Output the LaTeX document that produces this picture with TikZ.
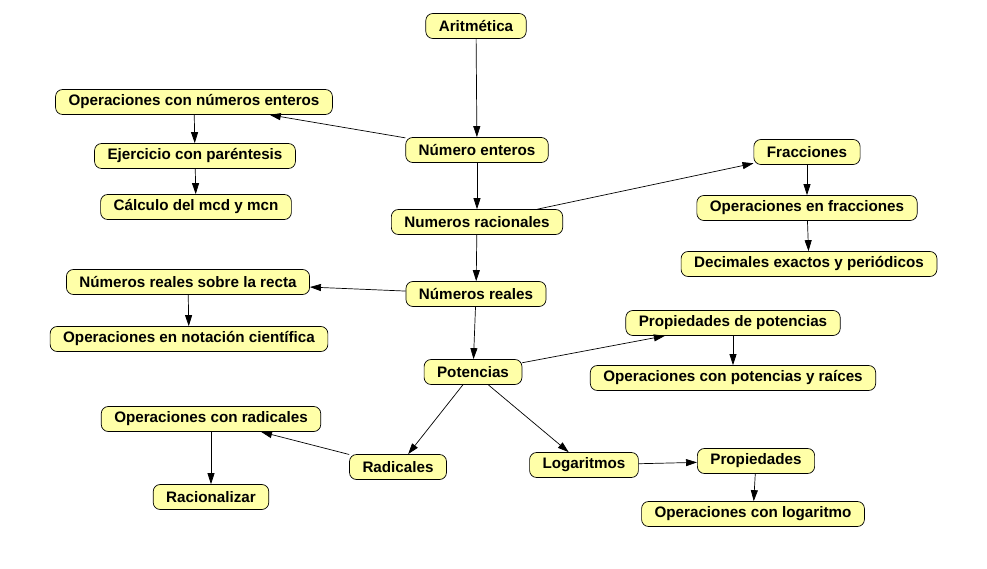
\documentclass[tikz,border=0pt]{standalone}
\usepackage{fontspec}
\setmainfont{Liberation Sans}
\usepackage{tikz}
\usetikzlibrary{arrows.meta, positioning}

\definecolor{conceptfill}{RGB}{255,255,168}

\begin{document}
\begin{tikzpicture}[x=1pt, y=-1pt, -{Triangle[length=11pt,width=7pt]}, line width=0.7pt,
  concept/.style={draw, fill=conceptfill, rounded corners=7pt, inner xsep=13pt, inner ysep=0pt,
    minimum height=25pt, font=\fontsize{15.2}{17}\selectfont\bfseries}]
        \useasboundingbox (0,0) rectangle (987,569);
				\node[concept] (arit)  at (476,26)  {Aritmética};
				\node[concept] (ent)   at (477,150) {Número enteros};
				\node[concept] (opent) at (194,102) {Operaciones con números enteros};
				\node[concept] (ejer)  at (195,156) {Ejercicio con paréntesis};
				\node[concept] (mcd)   at (196,207) {Cálculo del mcd y mcn};
				\node[concept] (rac)   at (477,222) {Numeros racionales};
				\node[concept] (frac)  at (807,152) {Fracciones};
				\node[concept] (opfr)  at (807,208) {Operaciones en fracciones};
				\node[concept] (dec)   at (809,264) {Decimales exactos y periódicos};
				\node[concept] (real)  at (476,294) {Números reales};
				\node[concept] (recta) at (188,282) {Números reales sobre la recta};
				\node[concept] (cient) at (189,339) {Operaciones en notación científica};
				\node[concept] (pot)   at (473,372) {Potencias};
				\node[concept] (prpot) at (733,323) {Propiedades de potencias};
				\node[concept] (oppot) at (733,378) {Operaciones con potencias y raíces};
				\node[concept] (oprad) at (211,419) {Operaciones con radicales};
				\node[concept] (racz)  at (211,497) {Racionalizar};
				\node[concept] (rad)   at (398,467) {Radicales};
				\node[concept] (log)   at (584,465) {Logaritmos};
				\node[concept] (prop)  at (756,461) {Propiedades};
				\node[concept] (oplog) at (753,514) {Operaciones con logaritmo};

				\path (arit)  edge (ent)
              (ent)   edge (opent)
                      edge (rac)
              (opent) edge (ejer)
              (ejer)  edge (mcd)
              (rac)   edge (frac)
                      edge (real)
              (frac)  edge (opfr)
              (opfr)  edge (dec)
              (real)  edge (recta)
                      edge (pot)
              (recta) edge (cient)
              (pot)   edge (prpot)
                      edge (rad)
                      edge (log)
              (prpot) edge (oppot)
              (rad)   edge (oprad)
              (oprad) edge (racz)
              (log)   edge (prop)
              (prop)  edge (oplog);
			\end{tikzpicture}
\end{document}
